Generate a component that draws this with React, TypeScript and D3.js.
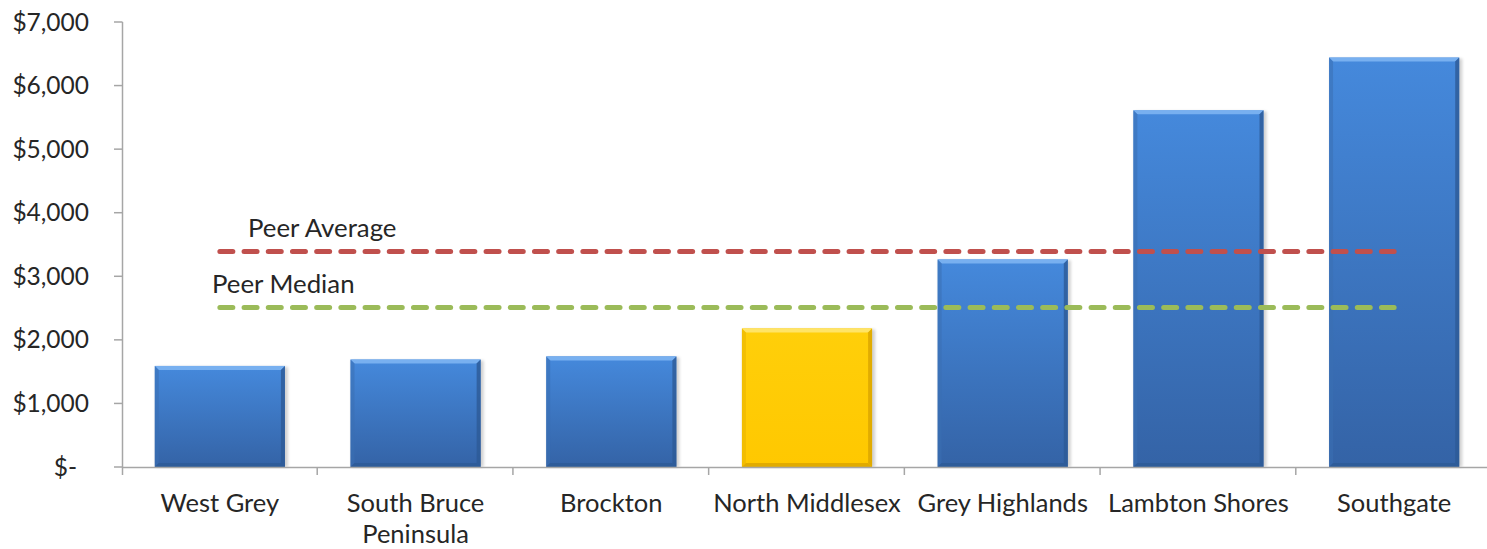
import React from "react";
import * as d3 from "d3";

const categories = [
  "West Grey",
  "South Bruce Peninsula",
  "Brockton",
  "North Middlesex",
  "Grey Highlands",
  "Lambton Shores",
  "Southgate",
];
const values = [1590, 1690, 1740, 2180, 3265, 5610, 6440];
const highlighted = "North Middlesex";
const peerAverage = 3390;
const peerMedian = 2510;
const yTicks = [0, 1000, 2000, 3000, 4000, 5000, 6000, 7000];

const W = 1487;
const H = 549;
const FONT = "Lato, 'Open Sans', sans-serif";
const TEXT = "#262626";
const AXIS = "#a6a6a6";

const x = d3
  .scaleBand<string>()
  .domain(categories)
  .range([122, 1492])
  .paddingInner(0.335)
  .paddingOuter(0.1675);
const y = d3.scaleLinear().domain([0, 7000]).range([467, 22]);

const fmt = (v: number) => (v === 0 ? "$-" : "$" + d3.format(",")(v));

function splitLabel(s: string): string[] {
  if (s.length <= 16) return [s];
  const i = s.lastIndexOf(" ");
  return [s.slice(0, i), s.slice(i + 1)];
}

const palettes = {
  blue: {
    top: "#4589dc",
    bottom: "#3463a6",
    hi: "#78b0f0",
    side: "#3a6fb3",
    low: "#2d5a96",
    gid: "gBlue",
  },
  yellow: {
    top: "#ffcf0a",
    bottom: "#ffc800",
    hi: "#ffe466",
    side: "#e8b200",
    low: "#d9a400",
    gid: "gYellow",
  },
};

function Bar({ cat, v }: { cat: string; v: number }) {
  const p = cat === highlighted ? palettes.yellow : palettes.blue;
  const x0 = x(cat)!;
  const w = x.bandwidth();
  const y0 = y(v);
  const y1 = y(0);
  const b = 4;
  const x1 = x0 + w;
  return (
    <g>
      <rect
        x={x0 + 1}
        y={y0 + 1}
        width={w + 2}
        height={y1 - y0 - 1}
        fill="#000"
        opacity={0.18}
        filter="url(#shadow)"
      />
      <rect x={x0} y={y0} width={w} height={y1 - y0} fill={`url(#${p.gid})`} />
      <polygon
        points={`${x0},${y0} ${x1},${y0} ${x1 - b},${y0 + b} ${x0 + b},${y0 + b}`}
        fill={p.hi}
      />
      <polygon
        points={`${x0},${y0} ${x0 + b},${y0 + b} ${x0 + b},${y1 - b} ${x0},${y1}`}
        fill={p.side}
        opacity={0.55}
      />
      <polygon
        points={`${x1},${y0} ${x1 - b},${y0 + b} ${x1 - b},${y1 - b} ${x1},${y1}`}
        fill={p.low}
        opacity={0.8}
      />
      <polygon
        points={`${x0},${y1} ${x0 + b},${y1 - b} ${x1 - b},${y1 - b} ${x1},${y1}`}
        fill={p.low}
        opacity={0.8}
      />
    </g>
  );
}

export default function App() {
  const half = x.bandwidth() / 2;
  const lx0 = x(categories[0])! + half;
  const lx1 = x(categories[categories.length - 1])! + half;
  return (
    <svg
      width={W}
      height={H}
      style={{ position: "absolute", left: 0, top: 0, background: "#fff" }}
      fontFamily={FONT}
    >
      <defs>
        <linearGradient id="gBlue" x1="0" y1="0" x2="0" y2="1">
          <stop offset="0" stopColor={palettes.blue.top} />
          <stop offset="1" stopColor={palettes.blue.bottom} />
        </linearGradient>
        <linearGradient id="gYellow" x1="0" y1="0" x2="0" y2="1">
          <stop offset="0" stopColor={palettes.yellow.top} />
          <stop offset="1" stopColor={palettes.yellow.bottom} />
        </linearGradient>
        <filter id="shadow" x="-10%" y="-10%" width="120%" height="120%">
          <feGaussianBlur stdDeviation="1.5" />
        </filter>
      </defs>

      {/* y axis */}
      <line x1={122.5} x2={122.5} y1={y(7000)} y2={y(0) + 8} stroke={AXIS} strokeWidth={1.5} />
      {yTicks.map((t) => (
        <g key={t}>
          <line x1={114} x2={122.5} y1={y(t)} y2={y(t)} stroke={AXIS} strokeWidth={1.5} />
          <text
            x={t === 0 ? 77 : 89}
            y={y(t)}
            dy="0.35em"
            textAnchor="end"
            fontSize={24.5}
            fill={TEXT}
          >
            {fmt(t)}
          </text>
        </g>
      ))}

      {/* bars */}
      {categories.map((c, i) => (
        <Bar key={c} cat={c} v={values[i]} />
      ))}

      {/* x axis */}
      <line x1={122} x2={1492} y1={y(0) + 0.5} y2={y(0) + 0.5} stroke={AXIS} strokeWidth={1.5} />
      {categories.map((c, i) => {
        const tx = x.step() * (i + 1) + 122 - 0.5;
        return (
          <line key={c} x1={tx} x2={tx} y1={y(0)} y2={y(0) + 8} stroke={AXIS} strokeWidth={1.5} />
        );
      })}
      {categories.map((c) => {
        const lines = splitLabel(c);
        return (
          <text
            key={c}
            x={x(c)! + half}
            y={512}
            textAnchor="middle"
            fontSize={25.5}
            fill={TEXT}
          >
            {lines.map((l, k) => (
              <tspan key={k} x={x(c)! + half} dy={k === 0 ? 0 : 31}>
                {l}
              </tspan>
            ))}
          </text>
        );
      })}

      {/* reference lines */}
      <line
        x1={lx0}
        x2={lx1}
        y1={y(peerAverage)}
        y2={y(peerAverage)}
        stroke="#c0504d"
        strokeWidth={5}
        strokeDasharray="13 11.2"
        strokeLinecap="round"
      />
      <line
        x1={lx0}
        x2={lx1}
        y1={y(peerMedian)}
        y2={y(peerMedian)}
        stroke="#9bbb59"
        strokeWidth={5}
        strokeDasharray="13 11.2"
        strokeLinecap="round"
      />
      <text x={248} y={237} fontSize={25.8} fill={TEXT}>
        Peer Average
      </text>
      <text x={212} y={293} fontSize={25.8} fill={TEXT}>
        Peer Median
      </text>
    </svg>
  );
}
